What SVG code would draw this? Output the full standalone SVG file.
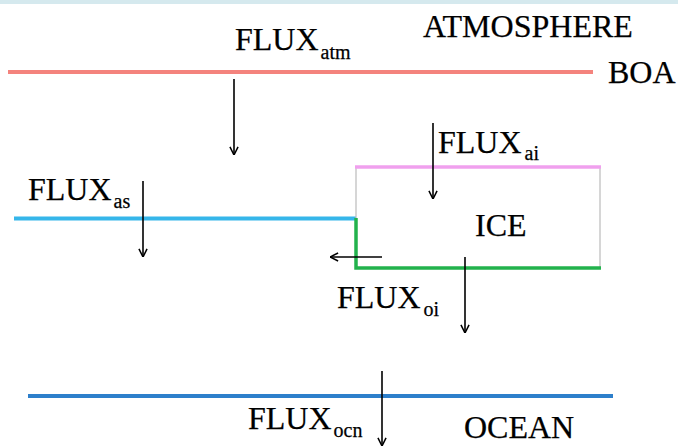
<svg xmlns="http://www.w3.org/2000/svg" width="678" height="446" viewBox="0 0 678 446">
  <style>
    text { font-family: "Liberation Serif", "Times New Roman", serif; fill: #000; stroke: #000; stroke-width: 0.25; }
    .lbl { font-size: 32px; }
    .sub { font-size: 20px; }
    .big { font-size: 32px; }
    .arr { stroke: #000; stroke-width: 1.6; fill: none; marker-end: url(#ah); }
    .box { stroke: #bbbbbb; stroke-width: 1.2; fill: none; }
  </style>
  <defs>
    <marker id="ah" viewBox="0 0 10 10" refX="10" refY="5" markerWidth="9" markerHeight="10" markerUnits="userSpaceOnUse" orient="auto">
      <path d="M1,0.5 L10,5 L1,9.5" fill="none" stroke="#000" stroke-width="1.7"/>
    </marker>
  </defs>
  <rect x="0" y="0" width="678" height="4" fill="#d5e9ee"/>

  <g id="atmosphere">
    <line x1="8" y1="72" x2="593" y2="72" stroke="#f4837d" stroke-width="4"/>
    <text class="big" x="423" y="37">ATMOSPHERE</text>
    <text class="lbl" x="608" y="83">BOA</text>
    <text class="lbl" x="235" y="50">FLUX<tspan class="sub" dx="2" dy="9">atm</tspan></text>
  </g>

  <g id="surface">
    <line x1="14" y1="218.5" x2="356" y2="218.5" stroke="#35b6ea" stroke-width="4"/>
    <text class="lbl" x="28" y="200">FLUX<tspan class="sub" dx="2" dy="8">as</tspan></text>
  </g>

  <g id="ice">
    <line x1="356" y1="167" x2="356" y2="218" class="box"/>
    <line x1="600" y1="167" x2="600" y2="268" class="box"/>
    <line x1="355" y1="167" x2="601" y2="167" stroke="#f0a0ee" stroke-width="3.5"/>
    <polyline points="356,218 356,268 601,268" fill="none" stroke="#22b24c" stroke-width="3.5"/>
    <text class="big" x="475" y="236">ICE</text>
    <text class="lbl" x="438" y="153">FLUX<tspan class="sub" dx="3" dy="7">ai</tspan></text>
    <text class="lbl" x="337" y="308">FLUX<tspan class="sub" dx="3" dy="8">oi</tspan></text>
  </g>

  <g id="ocean">
    <line x1="28" y1="396" x2="613" y2="396" stroke="#2d7fcb" stroke-width="4"/>
    <text class="lbl" x="248" y="429">FLUX<tspan class="sub" dx="2" dy="8">ocn</tspan></text>
    <text class="big" x="464" y="438">OCEAN</text>
  </g>

  <g id="connectors">
    <line class="arr" x1="234" y1="79" x2="234" y2="155"/>
    <line class="arr" x1="433" y1="123" x2="433" y2="199"/>
    <line class="arr" x1="143" y1="181" x2="143" y2="257"/>
    <line class="arr" x1="382" y1="257" x2="330" y2="257"/>
    <line class="arr" x1="465" y1="257" x2="465" y2="333"/>
    <line class="arr" x1="382" y1="371" x2="382" y2="446"/>
  </g>
</svg>
